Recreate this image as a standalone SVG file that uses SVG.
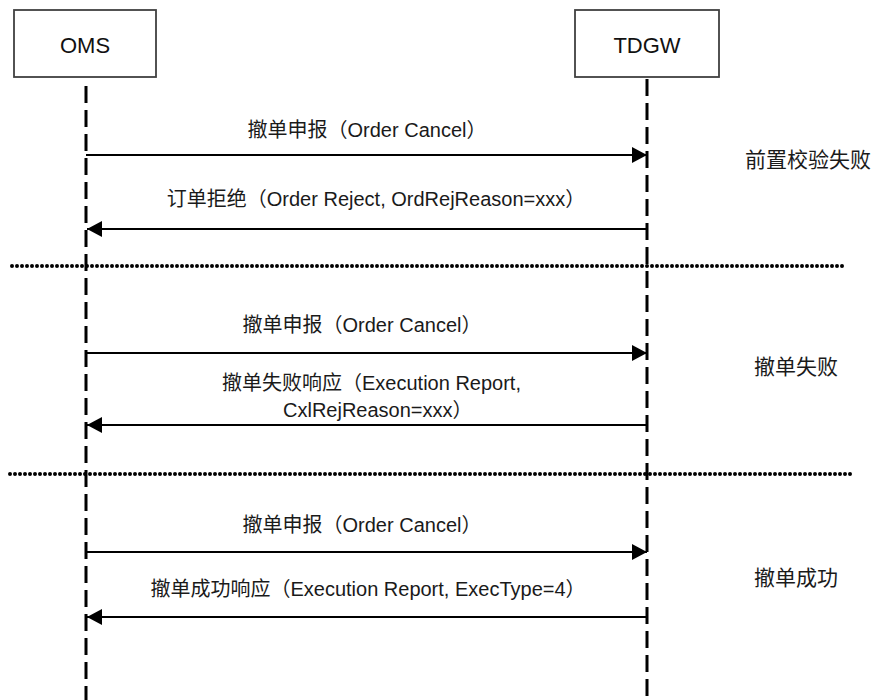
<svg xmlns="http://www.w3.org/2000/svg" width="880" height="700" viewBox="0 0 880 700">
  <defs>
    <style>
      .box { fill: #ffffff; stroke: #404040; stroke-width: 1.8; }
      .name { font-family: "Liberation Sans", "Noto Sans CJK SC", sans-serif; font-size: 22px; fill: #111; text-anchor: middle; }
      .life { stroke: #000; stroke-width: 3; stroke-dasharray: 17 7; fill: none; }
      .msg { stroke: #000; stroke-width: 2; fill: none; }
      .sep { stroke: #000; stroke-width: 4; stroke-dasharray: 0 5; stroke-linecap: round; fill: none; }
      .lbl { font-family: "Liberation Sans", "Noto Sans CJK SC", sans-serif; font-size: 20px; fill: #1a1a1a; }
      .side { font-family: "Noto Sans CJK SC", "Liberation Sans", sans-serif; font-size: 21px; fill: #1a1a1a; }
    </style>
    <marker id="arr" markerWidth="16" markerHeight="16" refX="15" refY="8" orient="auto" markerUnits="userSpaceOnUse">
      <path d="M0,0 L15,8 L0,16 Z" fill="#000"/>
    </marker>
  </defs>
  <rect width="880" height="700" fill="#ffffff"/>

  <g id="oms">
    <rect class="box" x="14" y="10" width="142" height="67"/>
    <text class="name" x="85" y="53">OMS</text>
    <line class="life" x1="86" y1="86" x2="86" y2="700"/>
  </g>
  <g id="tdgw">
    <rect class="box" x="575" y="10" width="144" height="67"/>
    <text class="name" x="647" y="53">TDGW</text>
    <line class="life" x1="647" y1="79" x2="647" y2="700"/>
  </g>

  <g id="connectors">
    <line class="msg" x1="86" y1="155" x2="647" y2="155" marker-end="url(#arr)"/>
    <line class="msg" x1="647" y1="229" x2="87" y2="229" marker-end="url(#arr)"/>
    <line class="sep" x1="12" y1="266" x2="845" y2="266"/>
    <line class="msg" x1="86" y1="353" x2="647" y2="353" marker-end="url(#arr)"/>
    <line class="msg" x1="647" y1="425" x2="87" y2="425" marker-end="url(#arr)"/>
    <line class="sep" x1="10" y1="474" x2="853" y2="474"/>
    <line class="msg" x1="86" y1="552" x2="647" y2="552" marker-end="url(#arr)"/>
    <line class="msg" x1="647" y1="617" x2="87" y2="617" marker-end="url(#arr)"/>
  </g>

  <g id="labels">
    <text class="lbl" x="367" y="137" text-anchor="middle">撤单申报（Order Cancel）</text>
    <text class="lbl" x="376" y="206" text-anchor="middle">订单拒绝（Order Reject, OrdRejReason=xxx）</text>
    <text class="lbl" x="362" y="332" text-anchor="middle">撤单申报（Order Cancel）</text>
    <text class="lbl" x="222" y="390">撤单失败响应（Execution Report,</text>
    <text class="lbl" x="283" y="417">CxlRejReason=xxx）</text>
    <text class="lbl" x="362" y="532" text-anchor="middle">撤单申报（Order Cancel）</text>
    <text class="lbl" x="368" y="596" text-anchor="middle">撤单成功响应（Execution Report, ExecType=4）</text>
  </g>

  <g id="sections">
    <text class="side" x="745" y="167">前置校验失败</text>
    <text class="side" x="754" y="374">撤单失败</text>
    <text class="side" x="754" y="585">撤单成功</text>
  </g>
</svg>
